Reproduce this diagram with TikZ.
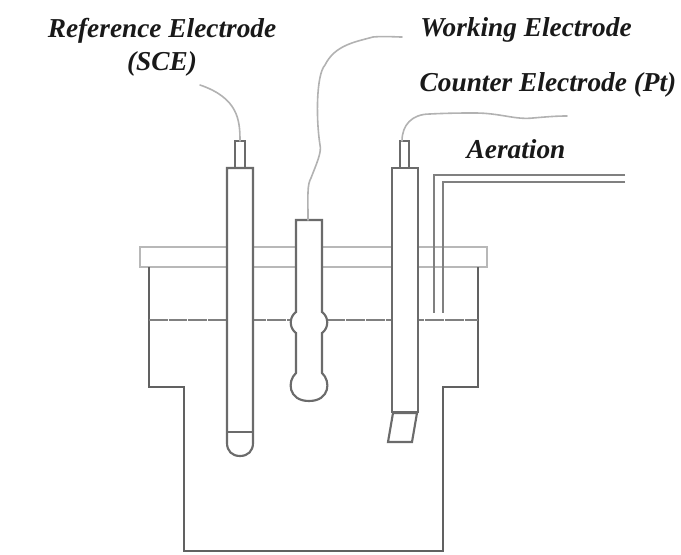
\documentclass[tikz,border=0pt]{standalone}
\usepackage{fontspec}
\setmainfont{Liberation Serif}
\tikzset{
  px/.style={x=0.75pt,y=-0.75pt},
  label/.style={font=\fontsize{20.5}{24}\selectfont\bfseries\itshape,text=black!90,inner sep=0pt,anchor=center},
  wire/.style={draw=black!30,line width=1.2pt,line cap=round},
  lid/.style={draw=black!28,line width=1.3pt},
  wall/.style={draw=black!62,line width=2.1pt,line join=miter},
  glass/.style={draw=black!58,line width=1.6pt,fill=white,line join=miter},
  water/.style={draw=black!50,line width=1.3pt,dash pattern=on 14pt off 0.8pt},
  pipe/.style={draw=black!50,line width=1.8pt},
}
\begin{document}
\begin{tikzpicture}[px]
\useasboundingbox (0,0) rectangle (681,555);
% lid
\draw[lid] (149,267) -- (140,267) -- (140,247) -- (487,247) -- (487,267) -- (478,267);
\draw[lid] (149,267) -- (478,267);
% vessel
\draw[wall] (149,267) -- (149,387) -- (184,387) -- (184,551) -- (443,551) -- (443,387) -- (478,387) -- (478,267);
% water
\draw[water] (149,320) -- (478,320);
% aeration pipe
\draw[pipe] (625,175) -- (434,175) -- (434,313);
\draw[pipe] (625,182) -- (443,182) -- (443,313);
% reference electrode
\draw[glass] (235,168) -- (235,141) -- (245,141) -- (245,168);
\draw[glass] (227,168) -- (253,168) -- (253,443)
  .. controls (253,451) and (248,456) .. (240,456)
  .. controls (232,456) and (227,451) .. (227,443) -- cycle;
\draw[glass] (227,432) -- (253,432);
% working electrode
\draw[glass] (296,312) -- (296,220) -- (322,220) -- (322,312)
  .. controls (329,317) and (329,328) .. (322,333)
  -- (322,373) .. controls (331,381) and (330,401) .. (309,401)
  .. controls (288,401) and (287,381) .. (296,373)
  -- (296,333) .. controls (289,328) and (289,317) .. (296,312) -- cycle;
% counter electrode
\draw[glass] (400,168) -- (400,141) -- (409,141) -- (409,168);
\draw[glass] (392,412) -- (392,168) -- (418,168) -- (418,412) -- cycle;
\draw[glass] (393,413) -- (417,413) -- (412,442) -- (388,442) -- cycle;
% wires
\draw[wire] (240,141) .. controls (240,120) and (238,98) .. (200,85);
\draw[wire] (308,220) .. controls (308,195) and (307,185) .. (311,178)
  .. controls (316,165) and (322,152) .. (320,145)
  .. controls (316,120) and (316,75) .. (325,65)
  .. controls (335,45) and (355,42) .. (373,37)
  .. controls (385,36) and (395,37) .. (402,37);
\draw[wire] (402,141) .. controls (402,125) and (412,114) .. (430,114)
  .. controls (450,113) and (465,113) .. (475,113)
  .. controls (500,113) and (515,120) .. (533,118)
  .. controls (545,117) and (555,116) .. (567,116);
% labels
\node[label] (ref) at (162,31) {Reference Electrode};
\node[label] (sce) at (162,64) {(SCE)};
\node[label] (work) at (526,30) {Working Electrode};
\node[label] (count) at (548,85) {Counter Electrode (Pt)};
\node[label] (aer) at (516,149) {Aeration};
\end{tikzpicture}
\end{document}
